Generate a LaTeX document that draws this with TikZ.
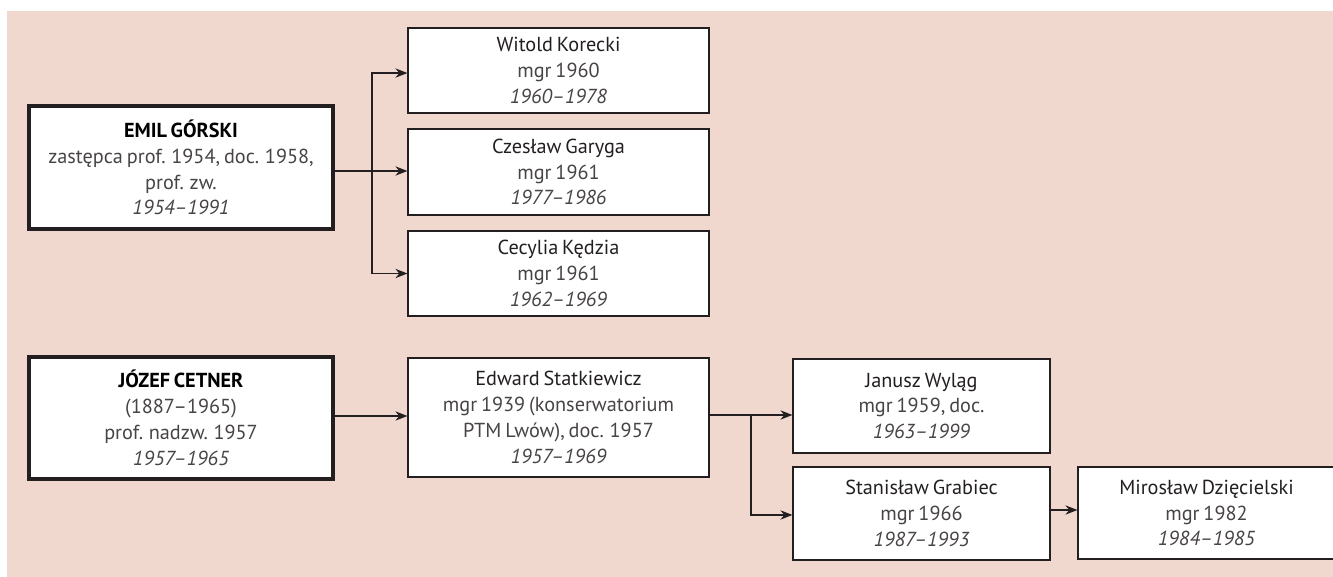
\documentclass[tikz,border=0pt]{standalone}
\usepackage{fontspec}
\setmainfont{PT Sans}[WordSpace=0.72]
\usetikzlibrary{arrows.meta}
\definecolor{bg}{RGB}{241,216,207}
\definecolor{ink}{RGB}{35,31,32}
\definecolor{soft}{RGB}{72,68,69}
\tikzset{
  px/.style={x={(0.75pt,0)},y={(0,-0.75pt)}},
  card/.style={draw=ink,fill=white,line width=0.9pt,rectangle,align=center,inner sep=0pt,
    font=\fontsize{15.2}{19.4}\selectfont,text=soft},
  bigcard/.style={card,line width=2.6pt},
  arr/.style={draw=ink,line width=0.9pt,-{Stealth[length=9pt,width=7pt]}},
}
\newcommand{\nm}[1]{{\color{ink}#1}}
\newcommand{\bnm}[1]{{\color{black}\bfseries #1}}
\begin{document}
\begin{tikzpicture}[px]
\useasboundingbox (0,0) rectangle (1333,577);
\fill[bg] (7,11) rectangle (1333,577);
\node[bigcard,minimum width=228pt,minimum height=92.25pt] (emil) at (181,167.5)
  {\bnm{EMIL GÓRSKI}\\zastępca prof. 1954, doc. 1958,\\prof. zw.\\\textit{1954–1991}};
\node[card,minimum width=225.75pt,minimum height=63.75pt] (witold) at (558.5,70.5)
  {\nm{Witold Korecki}\\mgr 1960\\\textit{1960–1978}};
\node[card,minimum width=225.75pt,minimum height=64.5pt] (czeslaw) at (558.5,172)
  {\nm{Czesław Garyga}\\mgr 1961\\\textit{1977–1986}};
\node[card,minimum width=225.75pt,minimum height=63.75pt] (cecylia) at (558.5,273.5)
  {\nm{Cecylia Kędzia}\\mgr 1961\\\textit{1962–1969}};
\node[bigcard,minimum width=228pt,minimum height=91.5pt] (jozef) at (181,418)
  {\bnm{JÓZEF CETNER}\\(1887–1965)\\prof. nadzw. 1957\\\textit{1957–1965}};
\node[card,minimum width=225.75pt,minimum height=89.25pt] (edward) at (558.5,417.5)
  {\nm{Edward Statkiewicz}\\mgr 1939 (konserwatorium\\PTM Lwów), doc. 1957\\\textit{1957–1969}};
\node[card,minimum width=192.75pt,minimum height=70.5pt] (janusz) at (921.5,406)
  {\nm{Janusz Wyląg}\\mgr 1959, doc.\\\textit{1963–1999}};
\node[card,minimum width=192.75pt,minimum height=69.75pt] (stan) at (921.5,513.5)
  {\nm{Stanisław Grabiec}\\mgr 1966\\\textit{1987–1993}};
\node[card,minimum width=192.75pt,minimum height=69pt] (miro) at (1206.5,513)
  {\nm{Mirosław Dzięcielski}\\mgr 1982\\\textit{1984–1985}};
% connectors
\coordinate (e1) at (333,171);
\coordinate (b1) at (372,171);
\draw[arr] (e1) -- (e1 -| czeslaw.west);
\draw[arr] (b1) |- ([yshift=-1.9pt]witold.west);
\draw[arr] (b1) |- (cecylia.west);
\coordinate (j1) at (333,416);
\draw[arr] (j1) -- (j1 -| edward.west);
\coordinate (d1) at (709,415);
\coordinate (b2) at (751,415);
\draw[arr] (d1) -- (d1 -| janusz.west);
\draw[arr] (b2) |- ([yshift=-1.1pt]stan.west);
\coordinate (s1) at (1050,510);
\draw[arr] (s1) -- (s1 -| miro.west);
\end{tikzpicture}
\end{document}
